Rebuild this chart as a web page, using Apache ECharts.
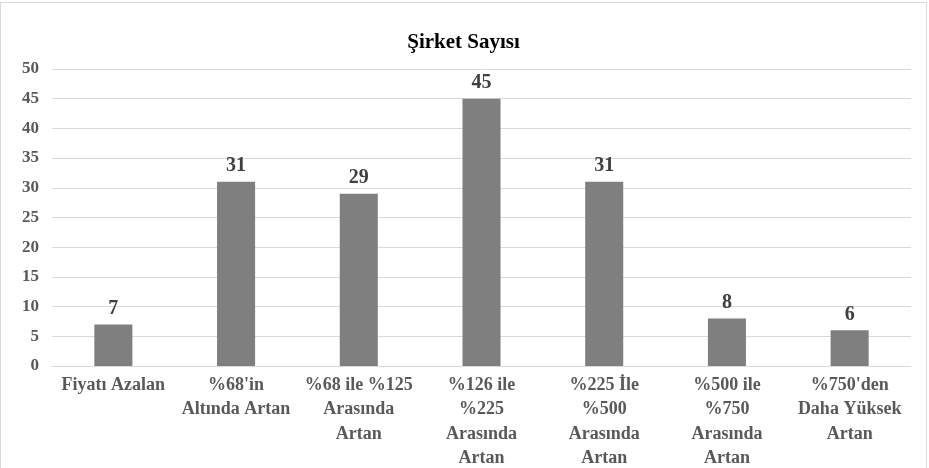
<!DOCTYPE html>
<html><head><meta charset="utf-8">
<script src="https://cdn.jsdelivr.net/npm/echarts@6/dist/echarts.min.js"></script>
<style>html,body{margin:0;padding:0;background:#fff}#c{position:absolute;left:0;top:2px;width:927px;height:470px;border:1px solid #d9d9d9;box-sizing:border-box}</style>
</head><body><div id="c"></div>
<script>
const categories = ["Fiyatı Azalan", "%68'in\nAltında Artan", "%68 ile %125\nArasında\nArtan", "%126 ile\n%225\nArasında\nArtan", "%225 İle\n%500\nArasında\nArtan", "%500 ile\n%750\nArasında\nArtan", "%750'den\nDaha Yüksek\nArtan"];
const values = [7, 31, 29, 45, 31, 8, 6];
const chart = echarts.init(document.getElementById('c'));
chart.setOption({
  animation: false,
  title: {text: 'Şirket Sayısı', left: 'center', top: 24, textStyle: {fontFamily: 'Liberation Serif', fontWeight: 'bold', fontSize: 21, color: '#000'}},
  grid: {left: 51, right: 15, top: 66, bottom: 103, containLabel: false},
  xAxis: {type: 'category', data: categories,
    axisLine: {lineStyle: {color: '#d9d9d9'}}, axisTick: {show: false},
    axisLabel: {interval: 0, margin: 7, fontFamily: 'Liberation Serif', fontWeight: 'bold', fontSize: 18, color: '#595959', lineHeight: 24.5}},
  yAxis: {type: 'value', min: 0, max: 50, interval: 5,
    splitLine: {lineStyle: {color: '#d9d9d9'}},
    axisLabel: {margin: 13, fontFamily: 'Liberation Serif', fontWeight: 'bold', fontSize: 17, color: '#595959'}},
  series: [{type: 'bar', data: values, barWidth: '31%', itemStyle: {color: '#7f7f7f'},
    label: {show: true, position: 'top', distance: 6, fontFamily: 'Liberation Serif', fontWeight: 'bold', fontSize: 20, color: '#404040'}}]
});
</script></body></html>
